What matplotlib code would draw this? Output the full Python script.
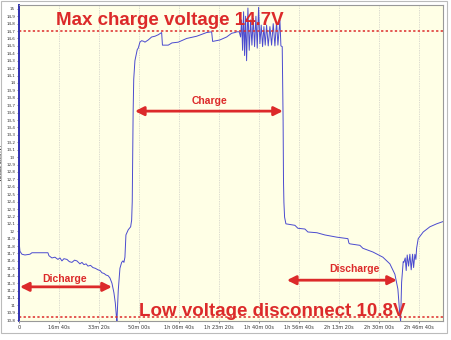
import matplotlib.pyplot as plt
from matplotlib.patches import Rectangle

# tensão da bateria ao longo do tempo (segundos, volts)
tempo = [0, 5, 10, 25, 75, 150, 275, 325, 525, 725, 750, 825, 900, 975, 1025, 1075,
         1125, 1200, 1260, 1325, 1390, 1450, 1525, 1575, 1625, 1680, 1725, 1790, 1850,
         1910, 1975, 2030, 2075, 2130, 2175, 2230, 2275, 2325, 2375, 2410, 2440, 2450,
         2483, 2525, 2568, 2600, 2625, 2650, 2675, 2733, 2793, 2818, 2833, 2840, 2855,
         2870, 2900, 2958, 2983, 3025, 3068, 3125, 3150, 3233, 3318, 3400, 3483, 3568,
         3588, 3733, 3825, 3983, 4193, 4443, 4693, 4818, 4843, 5025, 5193, 5318, 5400,
         5450, 5508, 5542, 5567, 5592, 5617, 5642, 5667, 5692, 5725, 5758, 5792, 5825,
         5858, 5892, 5925, 5958, 5992, 6025, 6058, 6092, 6125, 6158, 6192, 6233, 6275,
         6317, 6358, 6400, 6442, 6475, 6525, 6550, 6583, 6605, 6615, 6625, 6642, 6675,
         6900, 6975, 7150, 7225, 7450, 7650, 7950, 8225, 8250, 8275, 8525, 8600, 8850,
         9100, 9275, 9400, 9475, 9525, 9543, 9568, 9608, 9625, 9658, 9683, 9708, 9742,
         9775, 9808, 9842, 9868, 9900, 9925, 9943, 9983, 10108, 10275, 10443, 10600]
tensao = [13.24, 11.95, 11.82, 11.73, 11.69, 11.68, 11.69, 11.71, 11.71, 11.71, 11.67,
          11.64, 11.65, 11.62, 11.64, 11.60, 11.63, 11.62, 11.59, 11.58, 11.61, 11.60,
          11.56, 11.58, 11.55, 11.56, 11.53, 11.54, 11.51, 11.50, 11.48, 11.47, 11.44,
          11.43, 11.41, 11.40, 11.37, 11.30, 11.17, 11.03, 10.83, 10.79,
          11.2, 11.5, 11.58, 11.6, 11.58, 11.65, 11.95, 12.02, 12.06, 12.15, 12.4, 12.8,
          13.6, 14.05, 14.3, 14.45, 14.47, 14.55, 14.57, 14.56, 14.55, 14.58, 14.62,
          14.63, 14.65, 14.68, 14.51, 14.51, 14.54, 14.55, 14.6, 14.63, 14.68, 14.69,
          14.56, 14.58, 14.62, 14.67, 14.68, 14.69, 14.69, 14.62, 14.85, 14.44, 14.96,
          14.37, 14.9, 14.3, 15.01, 14.44, 14.85, 14.51, 14.87, 14.49, 14.9, 14.47,
          15.02, 14.53, 14.78, 14.49, 14.76, 14.51, 14.78, 14.5, 14.76, 14.51, 14.8,
          14.5, 14.83, 14.51, 14.85, 14.5, 14.49, 13.5, 12.67, 12.39, 12.19, 12.1,
          12.08, 12.04, 12.03, 11.99, 11.98, 11.95, 11.92, 11.9, 11.84, 11.83, 11.81,
          11.77, 11.72, 11.65, 11.56, 11.42, 11.22, 10.86, 10.79, 11.31, 11.59, 11.58,
          11.64, 11.47, 11.68, 11.53, 11.69, 11.48, 11.69, 11.51, 11.69, 11.62, 11.77,
          11.9, 11.99, 12.06, 12.1, 12.13]

ticks_x = [0, 1000, 2000, 3000, 4000, 5000, 6000, 7000, 8000, 9000, 10000]
rotulos_x = ['0', '16m 40s', '33m 20s', '50m 00s', '1h 06m 40s', '1h 23m 20s',
             '1h 40m 00s', '1h 56m 40s', '2h 13m 20s', '2h 30m 00s', '2h 46m 40s']
ticks_y = [round(10.8 + 0.1 * i, 1) for i in range(43)]
rotulos_y = [('%g' % v).replace('.', ',') for v in ticks_y]

tensao_max = 14.7
tensao_min = 10.84

vermelho = '#dc2a2a'

fig = plt.figure(figsize=(4.51, 3.40), dpi=100)
ax = fig.add_axes([0.042, 0.056, 0.940, 0.929])
ax.set_facecolor('#ffffe6')

ax.plot(tempo, tensao, color='#4b4bcf', lw=0.7)

# limites de tensão
ax.axhline(tensao_max, color=vermelho, ls=(0, (1.5, 1.5)), lw=1.1)
ax.axhline(tensao_min, color=vermelho, ls=(0, (1.5, 1.5)), lw=1.1)

ax.set_xlim(0, 10600)
ax.set_ylim(10.79, 15.05)
ax.set_xticks(ticks_x)
ax.set_xticklabels(rotulos_x, fontsize=3.6)
ax.set_yticks(ticks_y)
ax.set_yticklabels(rotulos_y, fontsize=3.0)
ax.tick_params(length=1.5, width=0.4, pad=1.2, colors='#333333')
ax.grid(True, axis='x', color='#bbbbbb', ls=(0, (1, 1.5)), lw=0.5)
ax.set_ylabel('Voltage accu [V]', fontsize=3.2)
ax.yaxis.set_label_coords(-0.037, 0.5)

for lado in ['top', 'right', 'bottom']:
    ax.spines[lado].set_color('#999999')
    ax.spines[lado].set_linewidth(0.8)
ax.spines['left'].set_color('#3030b0')
ax.spines['left'].set_linewidth(1.4)

fonte = dict(color=vermelho, fontweight='bold', family='Liberation Sans')
ax.text(3775, 14.84, 'Max charge voltage 14.7V', fontsize=13.5, ha='center', va='center', **fonte)
ax.text(6325, 10.92, 'Low voltage disconnect 10.8V', fontsize=13.5, ha='center', va='center', **fonte)
ax.text(4775, 13.75, 'Charge', fontsize=7.5, ha='center', va='center', **fonte)
ax.text(1150, 11.36, 'Dicharge', fontsize=7.5, ha='center', va='center', **fonte)
ax.text(8400, 11.49, 'Discharge', fontsize=7.5, ha='center', va='center', **fonte)

# setas de carga e descarga
seta = dict(arrowstyle='<|-|>', color=vermelho, lw=2, mutation_scale=13, shrinkA=0, shrinkB=0)
ax.annotate('', xy=(2900, 13.62), xytext=(6600, 13.62), arrowprops=seta)
ax.annotate('', xy=(25, 11.25), xytext=(2325, 11.25), arrowprops=seta)
ax.annotate('', xy=(6700, 11.34), xytext=(9450, 11.34), arrowprops=seta)

# moldura externa
fig.patches.append(Rectangle((0.002, 0.021), 0.989, 0.977, transform=fig.transFigure,
                             fill=False, edgecolor='#bbbbbb', lw=0.8))

fig.savefig('out.png', dpi=100)
